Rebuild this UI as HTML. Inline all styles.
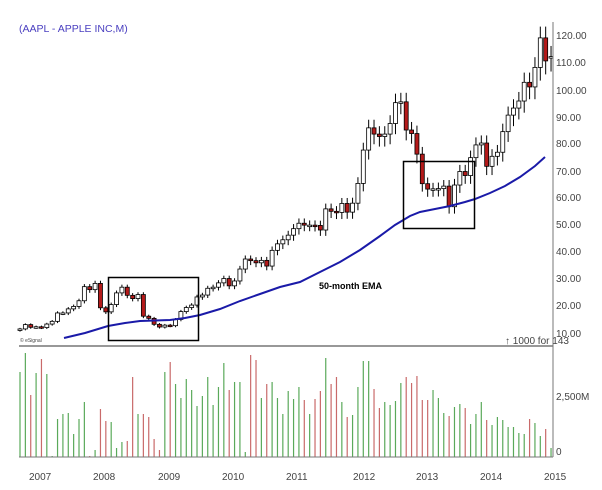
<!DOCTYPE html>
<html><head><meta charset="utf-8"><style>
body{margin:0;background:#fff;}
svg{display:block;font-family:"Liberation Sans",sans-serif;}
</style></head><body>
<svg id="s" width="602" height="490" xmlns="http://www.w3.org/2000/svg">
<rect width="602" height="490" fill="#fff"/>
<text x="19" y="32" font-size="10.5" fill="#4a3fc0">(AAPL - APPLE INC,M)</text>
<g id="vol"></g>
<g id="cand"></g>
<polyline fill="none" stroke="#1a1aa8" stroke-width="2" points="64,338 85,333 108,326 125,323 140,321 170,320 185,318 200,315 220,309 240,301 260,294 280,287 300,282 320,272 340,262 360,250 380,236 395,225 410,216 420,212 435,209 450,206 465,202 475,199 490,193 505,186 520,177 535,166 545,157"/>
<rect x="108.5" y="277.5" width="90" height="63" fill="none" stroke="#000" stroke-width="1.5"/>
<rect x="403.5" y="161.5" width="71" height="67" fill="none" stroke="#000" stroke-width="1.5"/>
<text x="319" y="289" font-size="9" font-weight="bold" fill="#000">50-month EMA</text>
<line x1="19" y1="346" x2="553" y2="346" stroke="#777" stroke-width="1.5"/>
<line x1="19" y1="457" x2="553" y2="457" stroke="#777" stroke-width="1"/>
<line x1="553" y1="22" x2="553" y2="457" stroke="#777" stroke-width="1"/>
<g font-size="10" fill="#444">
<text x="556" y="39">120.00</text>
<text x="556" y="66">110.00</text>
<text x="556" y="94">100.00</text>
<text x="556" y="121">90.00</text>
<text x="556" y="147">80.00</text>
<text x="556" y="175">70.00</text>
<text x="556" y="201">60.00</text>
<text x="556" y="228">50.00</text>
<text x="556" y="255">40.00</text>
<text x="556" y="282">30.00</text>
<text x="556" y="309">20.00</text>
<text x="556" y="337">10.00</text>
<text x="505" y="344">↑ 1000 for 143</text>
<text x="556" y="400">2,500M</text>
<text x="556" y="455">0</text>
<text x="29" y="480">2007</text>
<text x="93" y="480">2008</text>
<text x="158" y="480">2009</text>
<text x="222" y="480">2010</text>
<text x="286" y="480">2011</text>
<text x="353" y="480">2012</text>
<text x="416" y="480">2013</text>
<text x="480" y="480">2014</text>
<text x="544" y="480">2015</text>
</g>
<text x="20" y="342" font-size="5" fill="#444">© eSignal</text>
</svg>
<script>
var c=[11.5,13.1,12.1,12.3,12.0,13.3,14.3,17.4,17.4,18.9,19.8,21.9,27.1,26.0,28.3,19.3,17.8,20.5,24.8,26.9,23.9,22.7,24.2,16.2,15.4,13.2,12.2,12.9,12.7,15.0,17.9,19.4,20.3,23.3,24.0,26.5,26.9,28.5,30.1,27.4,29.2,33.6,37.3,36.7,35.9,36.8,34.7,40.5,42.9,44.4,46.1,48.5,50.5,49.8,49.8,49.7,48.0,55.8,54.9,54.5,57.8,54.6,57.9,65.2,77.5,85.7,83.4,82.5,83.4,87.3,95.0,95.3,84.9,83.6,76.0,65.1,63.1,63.2,63.3,64.2,56.6,64.6,69.6,68.1,74.7,79.4,80.1,71.5,75.2,76.7,84.3,90.4,93.0,95.6,102.5,100.8,108,118.9,110.4,112];
var vt=[372,353,395,373,359,374,456,419,414,413,434,419,402,456,450,409,421,422,448,442,441,377,414,414,417,439,450,372,362,384,398,379,390,406,396,377,405,387,363,390,382,382,452,355,360,398,384,382,398,414,391,399,387,400,414,399,391,358,384,377,402,417,415,387,361,361,389,408,402,405,401,383,377,383,376,400,400,390,398,413,416,407,404,408,424,414,402,420,425,417,420,427,427,433,434,419,423,436,429,448];
function y(p){return 333-(p-10)*2.71;}
var st=5.364,h='',v='';
for(var i=0;i<c.length;i++){
 var x=20+i*st,o=i?c[i-1]:11,cl=c[i];
 if(i==c.length-1)o=111.5;
 var hi=Math.max(o,cl)*1.035,lo=Math.min(o,cl)*0.955;
 var up=cl>=o;
 h+='<line x1="'+x+'" x2="'+x+'" y1="'+y(hi)+'" y2="'+y(lo)+'" stroke="#000" stroke-width="1"/>';
 var t=y(Math.max(o,cl)),b=y(Math.min(o,cl));if(b-t<1.5)b=t+1.5;
 h+='<rect x="'+(x-2)+'" y="'+t+'" width="4" height="'+(b-t)+'" fill="'+(up?'#fff':'#b41a1a')+'" stroke="#000" stroke-width="0.8"/>';
}
for(var j=0;j<vt.length;j++){
 var x2=20+j*st,up2=j<c.length?(j?c[j]>=c[j-1]:true):true;
 v+='<line x1="'+x2+'" x2="'+x2+'" y1="'+vt[j]+'" y2="457" stroke="'+(up2?'#5aa95a':'#c96a6a')+'" stroke-width="1.2"/>';
}
document.getElementById('cand').innerHTML=h;
document.getElementById('vol').innerHTML=v;
</script>
</body></html>
